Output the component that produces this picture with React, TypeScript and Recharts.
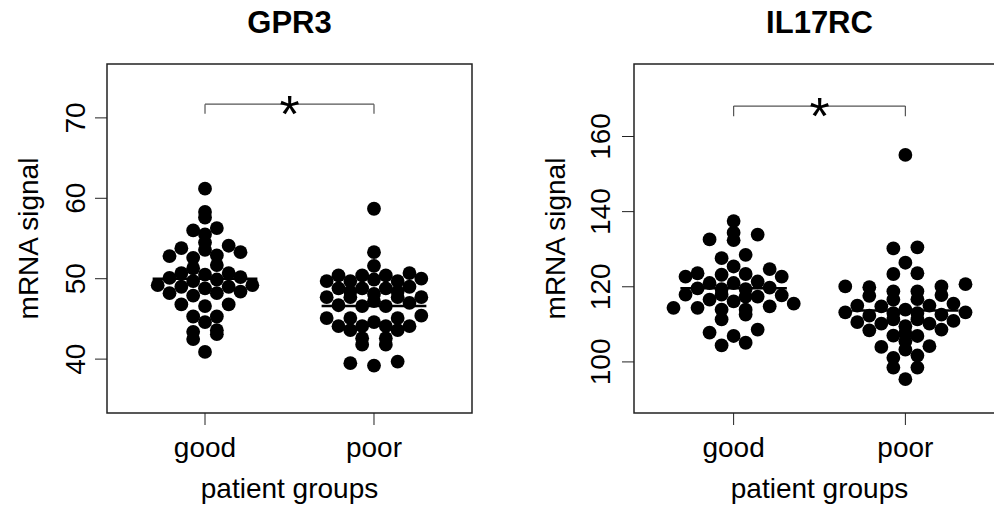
import React from 'react';
import {
  ScatterChart,
  Scatter,
  XAxis,
  YAxis,
  ReferenceLine,
  ReferenceArea,
  ReferenceDot,
  Label
} from 'recharts';

const groups = ['good', 'poor'];

// GPR3: value + column slot in the swarm
const gpr3GoodValues = [
  61.2, 58.3, 57.6, 56.3, 56.0, 55.5, 54.5, 54.1, 53.8, 53.6, 53.3, 52.9, 52.8, 52.6, 51.7, 51.3,
  50.7, 50.7, 50.5, 50.2, 50.1, 49.9, 49.7, 49.2, 49.2, 49.0, 49.0, 48.8, 48.4, 48.2, 48.2, 47.9,
  46.8, 46.8, 46.6, 45.3, 45.3, 44.6, 43.6, 43.4, 43.1, 42.5, 40.9
];
const gpr3GoodSlots = [
  0, 0, 0, 1, -1, 0, 0, 2, -2, 0, 3, 1, -3, -1, 1, -1,
  -2, 2, 0, 3, -3, 1, -1, -4, 4, -2, 2, 0, 3, -3, 1, -1,
  -2, 2, 0, -1, 1, 0, 1, -1, 1, -1, 0
];
const gpr3PoorValues = [
  58.7, 53.3, 51.6, 50.4, 50.4, 50.4, 50.7, 49.7, 49.7, 49.9, 49.7, 50.0, 48.8, 48.8, 48.8, 49.0,
  48.4, 48.4, 48.1, 47.7, 47.7, 47.2, 47.7, 47.7, 46.7, 46.6, 46.6, 47.0, 45.1, 45.1, 44.6, 45.1,
  45.4, 44.1, 44.1, 44.1, 44.1, 43.6, 43.6, 42.6, 42.6, 41.8, 41.8, 39.5, 39.2, 39.7
];
const gpr3PoorSlots = [
  0, 0, 0, -3, -1, 1, 3, -4, -2, 0, 2, 4, -3, -1, 1, 3,
  -2, 2, 0, -4, -2, 0, 2, 4, -3, -1, 1, 3, -4, -2, 0, 2,
  4, -3, -1, 1, 3, -2, 2, -1, 1, -1, 1, -2, 0, 2
];
const gpr3Medians = [50.0, 46.6];
const gpr3Ticks = [40, 50, 60, 70];
const gpr3Bracket = [70.5, 71.7];

// IL17RC
const il17GoodValues = [
  137.5, 134.4, 132.4, 132.6, 133.9, 127.6, 128.5, 125.4, 122.7, 123.6, 123.2, 123.4, 124.7, 122.7,
  121.0, 121.0, 121.4, 119.6, 119.4, 119.4, 119.8, 117.9, 116.6, 117.9, 116.1, 117.4, 117.4, 117.7,
  114.4, 114.4, 114.8, 115.5, 113.9, 113.9, 111.3, 112.6, 107.8, 106.9, 108.6, 104.4, 105.1
];
const il17GoodSlots = [
  0, 0, 0, -2, 2, -1, 1, 0, -4, -3, -1, 1, 3, 4,
  -2, 0, 2, -3, -1, 1, 3, -4, -2, -1, 0, 1, 2, 4,
  -5, -3, 3, 5, -1, 1, -1, 1, -2, 0, 2, -1, 1
];
const il17PoorValues = [
  155.1, 130.2, 130.5, 126.4, 123.4, 123.6, 120.1, 120.7, 119.9, 120.1, 117.6, 117.8, 118.8, 118.8,
  116.6, 116.7, 115.0, 115.5, 114.8, 115.0, 113.2, 113.2, 113.9, 113.0, 113.0, 112.3, 112.6, 110.6,
  110.9, 110.2, 110.2, 111.3, 111.3, 109.5, 108.4, 108.6, 107.0, 106.9, 107.7, 104.0, 104.2, 105.5,
  103.3, 101.7, 101.1, 98.5, 98.5, 95.4
];
const il17PoorSlots = [
  0, -1, 1, 0, -1, 1, -5, 5, -3, 3, -3, 3, -1, 1,
  -1, 1, -4, 4, -2, 2, -5, 5, 0, -1, 1, -3, 3, -4,
  4, -2, 2, -1, 1, 0, -3, 3, -1, 1, 0, -2, 2, 0,
  0, 1, -1, -1, 1, 0
];
const il17Medians = [119.6, 113.7];
const il17Ticks = [100, 120, 140, 160];
const il17Bracket = [165.4, 168.1];

const SLOT = 0.07;
const HALF_MEDIAN = 0.31;
const X_DOMAIN: [number, number] = [0.42, 2.58];
const FONT = '"Liberation Sans", Arial, Helvetica, sans-serif';

const toPoints = (values: number[], slots: number[], g: number) =>
  values.map((v, i) => ({ x: g + slots[i] * SLOT, y: v }));

const Dot = (props: any) => <circle cx={props.cx} cy={props.cy} r={6.9} fill="#000" />;

const YTick = (props: any) => {
  const { x, y, payload } = props;
  return (
    <text x={x} y={y} transform={`rotate(-90 ${x} ${y})`} textAnchor="middle" fontSize={28} fill="#000">
      {payload.value}
    </text>
  );
};

interface PanelProps {
  title: string;
  left: number;
  width: number;
  yAxisWidth: number;
  marginRight: number;
  yDomain: [number, number];
  yTicks: number[];
  good: { x: number; y: number }[];
  poor: { x: number; y: number }[];
  medians: number[];
  bracket: number[];
  yLabelOffset: number;
  tickMargin: number;
}

const Panel: React.FC<PanelProps> = ({
  title, left, width, yAxisWidth, marginRight, yDomain, yTicks, good, poor, medians, bracket, yLabelOffset, tickMargin
}) => {
  const plotLeft = left + yAxisWidth;
  const plotRight = left + width - marginRight;
  return (
    <>
      <div
        style={{
          position: 'absolute',
          left: plotLeft,
          width: plotRight - plotLeft,
          top: 7,
          textAlign: 'center',
          fontSize: 31,
          lineHeight: '31px',
          fontWeight: 'bold',
          color: '#000'
        }}
      >
        {title}
      </div>
      <div style={{ position: 'absolute', left, top: 0 }}>
        <ScatterChart width={width} height={509} margin={{ top: 64, right: marginRight, bottom: 0, left: 0 }}>
          <XAxis
            type="number"
            dataKey="x"
            domain={X_DOMAIN}
            ticks={[1, 2]}
            tickFormatter={(v: number) => groups[v - 1]}
            height={96}
            tickSize={12}
            tickMargin={12}
            stroke="#222"
            axisLine={false}
            tick={{ fontSize: 28, fill: '#000' }}
            allowDataOverflow
          >
            <Label
              content={(p: any) => (
                <text x={p.viewBox.x + p.viewBox.width / 2} y={p.viewBox.y + 85} textAnchor="middle" fontSize={28} fill="#000">
                  patient groups
                </text>
              )}
            />
          </XAxis>
          <YAxis
            type="number"
            dataKey="y"
            domain={yDomain}
            ticks={yTicks}
            width={yAxisWidth}
            tickSize={12}
            tickMargin={tickMargin}
            stroke="#222"
            axisLine={false}
            tick={<YTick />}
            allowDataOverflow
          >
            <Label
              content={(p: any) => {
                const x = p.viewBox.x + p.viewBox.width - yLabelOffset;
                const y = p.viewBox.y + p.viewBox.height / 2;
                return (
                  <text x={x} y={y} transform={`rotate(-90 ${x} ${y})`} textAnchor="middle" fontSize={28} fill="#000">
                    mRNA signal
                  </text>
                );
              }}
            />
          </YAxis>
          <ReferenceArea
            x1={X_DOMAIN[0]}
            x2={X_DOMAIN[1]}
            y1={yDomain[0]}
            y2={yDomain[1]}
            fill="none"
            stroke="#222"
            strokeWidth={1.5}
            fillOpacity={0}
          />
          <ReferenceLine segment={[{ x: 1, y: bracket[0] }, { x: 1, y: bracket[1] }]} stroke="#555" strokeWidth={1.2} />
          <ReferenceLine segment={[{ x: 1, y: bracket[1] }, { x: 2, y: bracket[1] }]} stroke="#555" strokeWidth={1.2} />
          <ReferenceLine segment={[{ x: 2, y: bracket[0] }, { x: 2, y: bracket[1] }]} stroke="#555" strokeWidth={1.2} />
          <ReferenceDot
            x={1.5}
            y={bracket[1]}
            r={0}
            shape={(p: any) => (
              <text x={p.cx} y={p.cy + 28} textAnchor="middle" fontSize={52} fill="#000">
                *
              </text>
            )}
          />
          <Scatter data={good} shape={Dot} isAnimationActive={false} />
          <Scatter data={poor} shape={Dot} isAnimationActive={false} />
          {medians.map((m, i) => (
            <ReferenceLine
              key={i}
              segment={[{ x: i + 1 - HALF_MEDIAN, y: m }, { x: i + 1 + HALF_MEDIAN, y: m }]}
              stroke="#000"
              strokeWidth={2.5}
            />
          ))}
        </ScatterChart>
      </div>
    </>
  );
};

export default function App() {
  return (
    <div
      style={{
        position: 'absolute',
        left: 0,
        top: 0,
        width: 994,
        height: 509,
        overflow: 'hidden',
        background: '#fff',
        fontFamily: FONT
      }}
    >
      <Panel
        title="GPR3"
        left={0}
        width={497}
        yAxisWidth={107}
        marginRight={25}
        yDomain={[33.3, 76.7]}
        yTicks={gpr3Ticks}
        good={toPoints(gpr3GoodValues, gpr3GoodSlots, 1)}
        poor={toPoints(gpr3PoorValues, gpr3PoorSlots, 2)}
        medians={gpr3Medians}
        bracket={gpr3Bracket}
        yLabelOffset={69}
        tickMargin={10}
      />
      <Panel
        title="IL17RC"
        left={497}
        width={530}
        yAxisWidth={137}
        marginRight={22}
        yDomain={[86.4, 179.3]}
        yTicks={il17Ticks}
        good={toPoints(il17GoodValues, il17GoodSlots, 1)}
        poor={toPoints(il17PoorValues, il17PoorSlots, 2)}
        medians={il17Medians}
        bracket={il17Bracket}
        yLabelOffset={69}
        tickMargin={12}
      />
    </div>
  );
}
